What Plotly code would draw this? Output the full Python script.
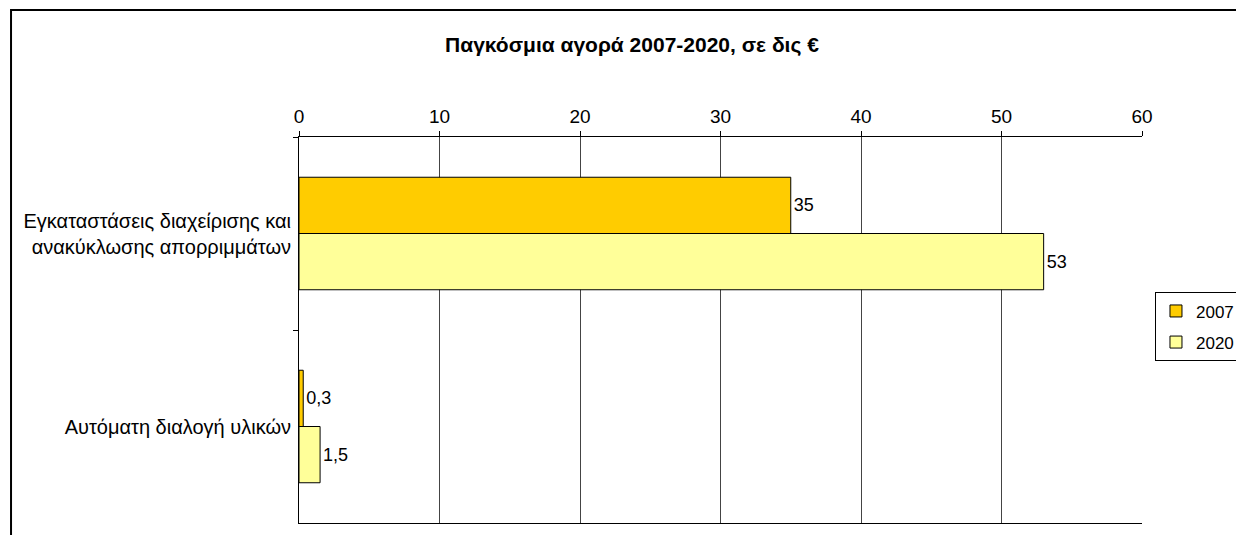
import plotly.graph_objects as go

# Data
categories = ["Εγκαταστάσεις διαχείρισης και<br>ανακύκλωσης απορριμμάτων",
              "Αυτόματη διαλογή υλικών"]
years = ["2007", "2020"]
values_2007 = [35, 0.3]
values_2020 = [53, 1.5]
colors = ["#FFCC00", "#FFFF99"]

FONT = "Liberation Sans, Arial, sans-serif"

fig = go.Figure()
for name, vals, col in zip(years, [values_2007, values_2020], colors):
  fig.add_trace(go.Bar(
    name=name, legendgroup=name, y=categories, x=vals, orientation="h",
    marker=dict(color=col, line=dict(color="black", width=1)),
    text=vals, texttemplate="%{x}", textposition="outside",
    textfont=dict(family=FONT, size=18, color="black"),
    cliponaxis=False,
  ))

# page body adds an 8px offset, so margins are shifted to compensate
fig.update_layout(
  width=1244, height=535,
  margin=dict(l=291, r=110, t=129, b=20, autoexpand=False),
  paper_bgcolor="white", plot_bgcolor="white",
  separators=",.",
  barmode="group", bargap=0.417, bargroupgap=0,
  font=dict(family=FONT, size=18, color="black"),
  title=dict(text="<b>Παγκόσμια αγορά 2007-2020, σε δις €</b>",
             x=0.5016, xanchor="center", y=0.931, yanchor="middle",
             font=dict(family=FONT, size=21, color="black")),
  showlegend=True,
  legend=dict(x=1.0154, xanchor="left", y=0.508, yanchor="middle",
              traceorder="grouped", bordercolor="black", borderwidth=1,
              bgcolor="white", font=dict(family=FONT, size=17),
              itemwidth=30, tracegroupgap=6),
)

fig.update_xaxes(
  side="top", range=[0, 60], dtick=10, tick0=0,
  showgrid=True, gridcolor="#444444", gridwidth=1,
  showline=True, linecolor="black", linewidth=1, mirror=True,
  ticks="outside", ticklen=5, tickcolor="black",
  zeroline=False, tickfont=dict(family=FONT, size=19),
)
fig.update_yaxes(
  autorange="reversed", showgrid=False,
  showline=True, linecolor="black", linewidth=1,
  ticks="outside", ticklen=5, tickcolor="black", tickson="boundaries",
  tickfont=dict(family=FONT, size=20), ticklabelstandoff=3,
)

# outer chart frame (cut off at right and bottom like the original)
fig.add_shape(type="rect", xref="paper", yref="paper",
              x0=-0.3416, x1=2, y0=-1, y1=1.329,
              line=dict(color="black", width=2), fillcolor="rgba(0,0,0,0)",
              layer="above")

fig.write_html("out.html")
